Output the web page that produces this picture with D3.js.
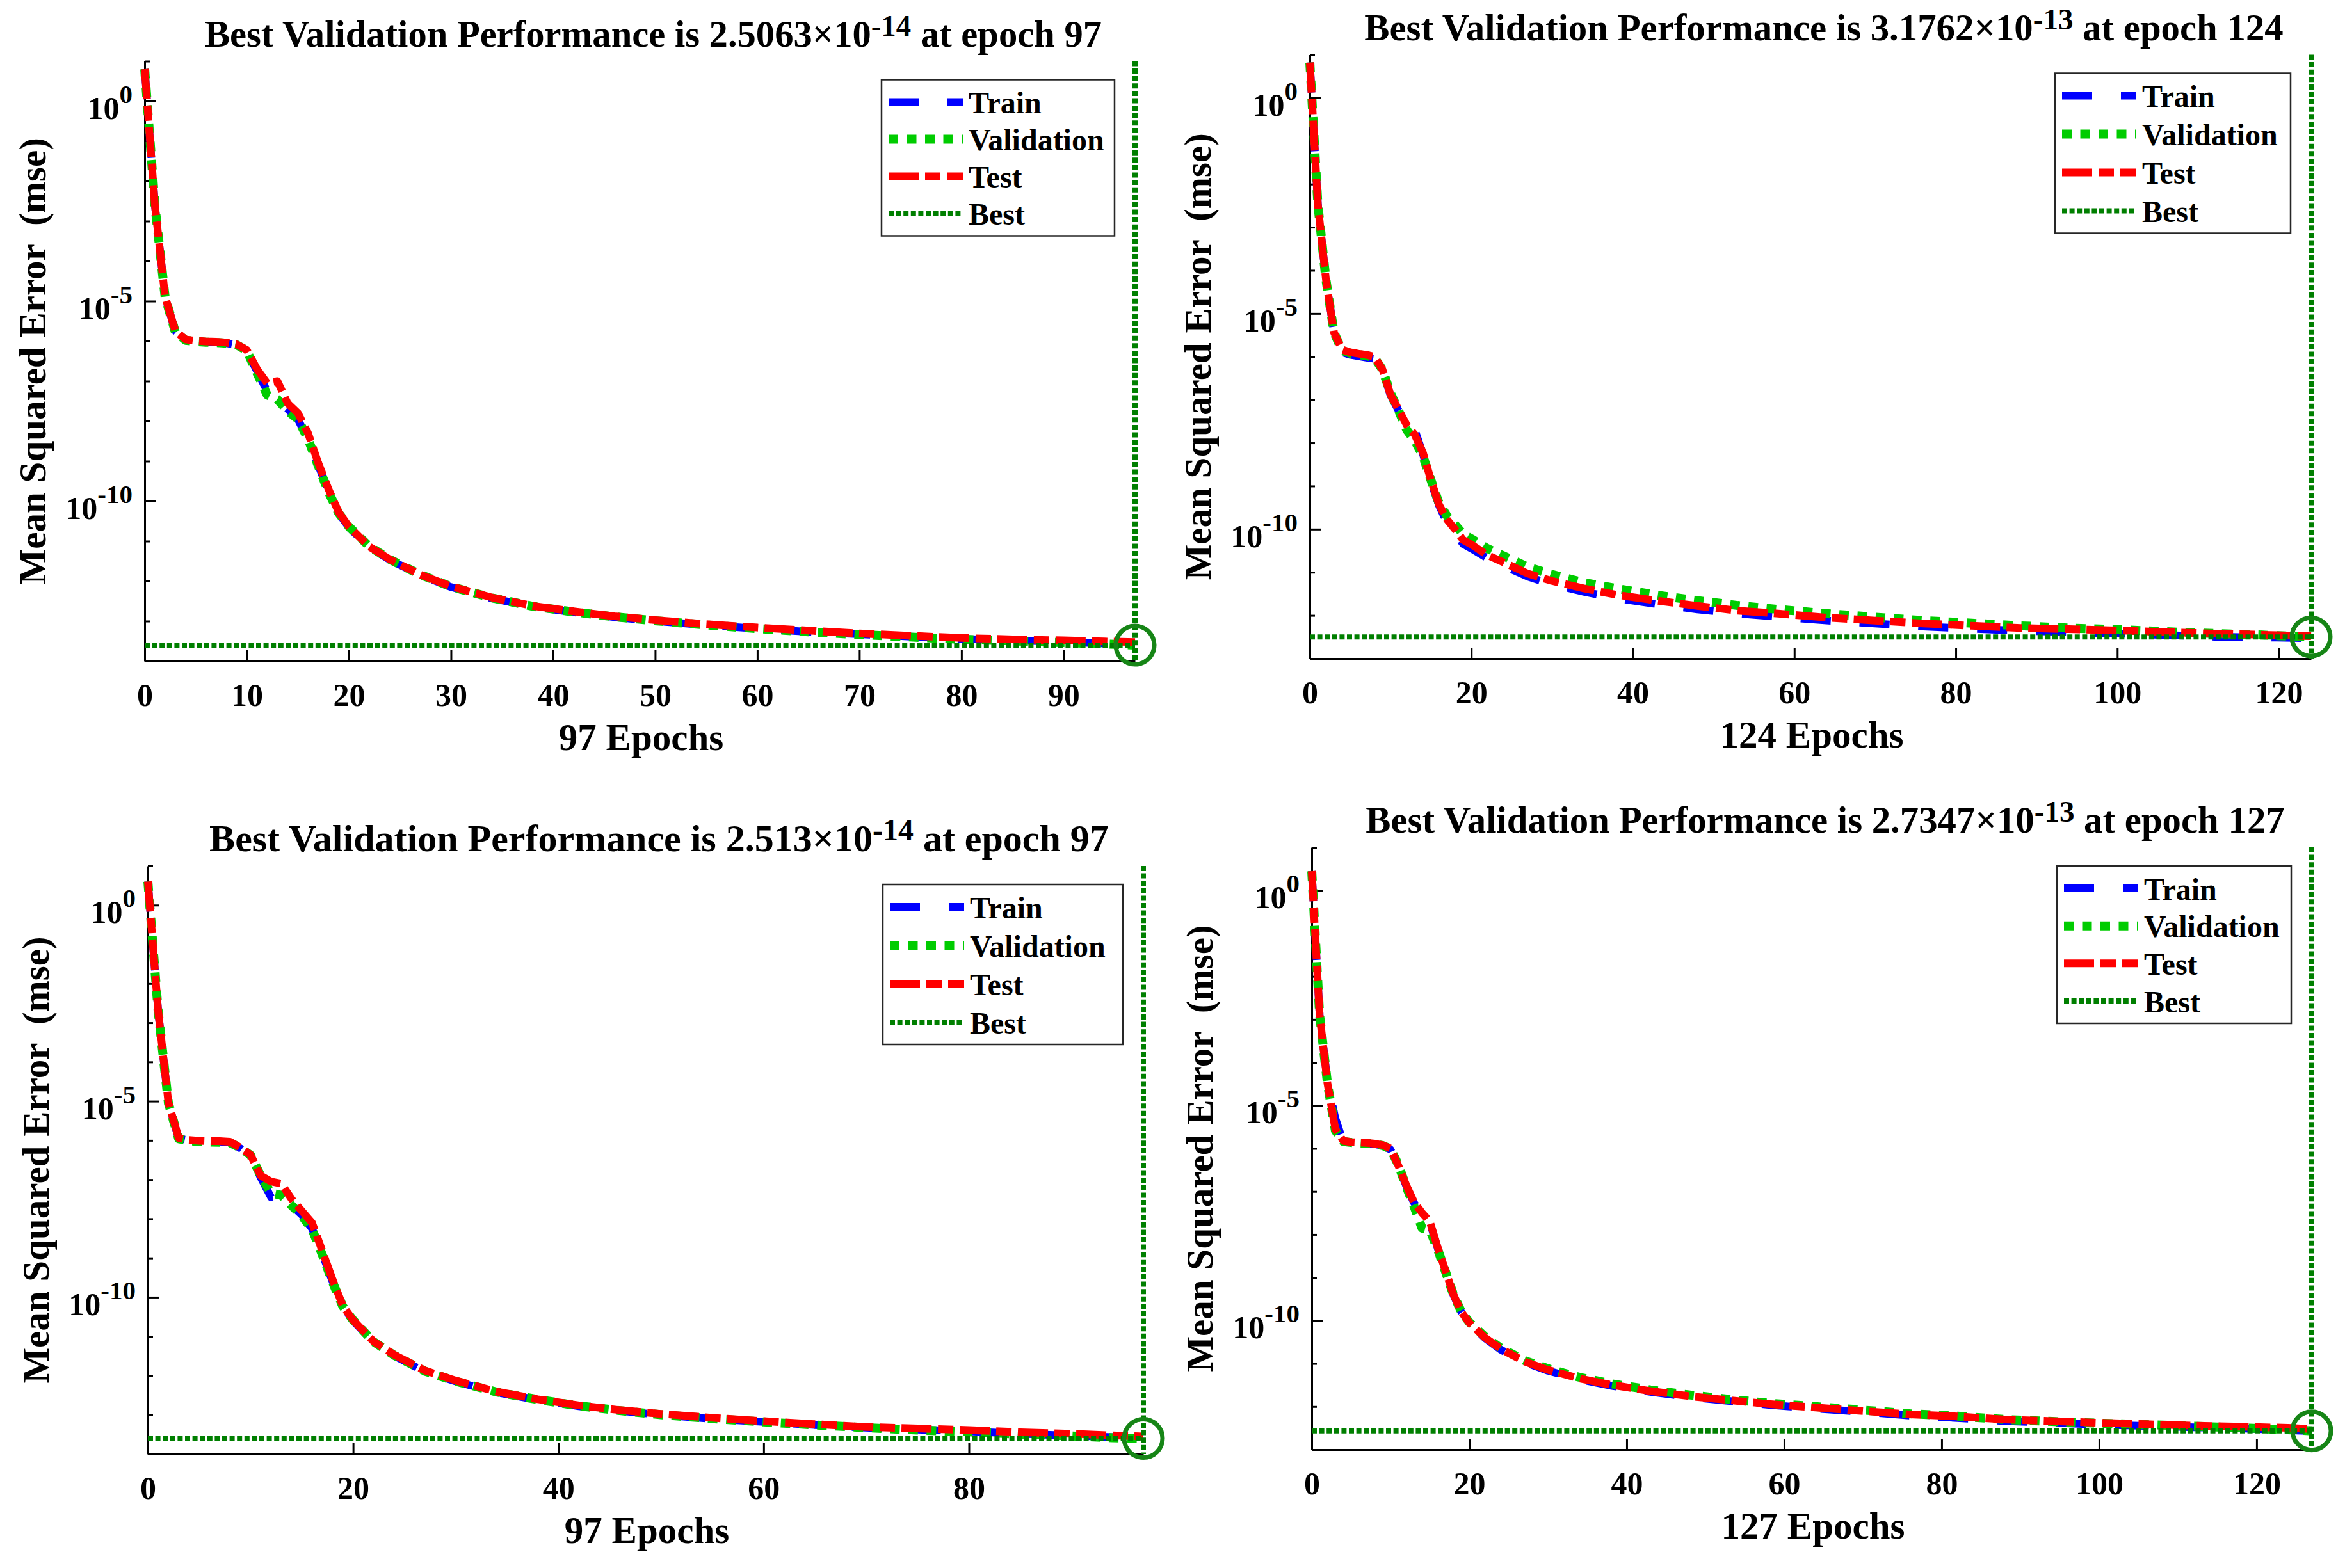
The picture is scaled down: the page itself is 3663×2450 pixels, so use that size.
<!DOCTYPE html>
<html>
<head>
<meta charset="utf-8">
<script src="https://cdn.jsdelivr.net/npm/d3@7"></script>
<style>
  body { margin: 0; background: #fff; }
  text { font-family: "Liberation Serif", "Times New Roman", serif; font-weight: bold; fill: #000; }
</style>
</head>
<body>
<div id="chart"></div>
<script>
// ---- data (mse per epoch) ----

// top left: 97 epochs
const epochsTL = [0,1,2,3,4,5,6,7,8,9,10,11,12,13,14,15,16,17,18,19,20,22,24,27,30,34,38,42,46,50,55,60,65,70,75,80,85,90,94,97];
const trainTL = [6.3, 2.5e-3, 1.26e-5, 1.78e-6, 1.07e-6, 1.0e-6, 9.5e-7, 9.3e-7, 8.9e-7, 7.9e-7, 5.6e-7, 1.78e-7, 5.6e-8, 3.2e-8, 2.0e-8, 1.12e-8, 3.5e-9, 7.9e-10, 1.78e-10, 5.0e-11, 2.2e-11, 7.1e-12, 3.4e-12, 1.41e-12, 7.1e-13, 3.7e-13, 2.3e-13, 1.66e-13, 1.26e-13, 1.0e-13, 7.9e-14, 6.5e-14, 5.4e-14, 4.7e-14, 4.1e-14, 3.6e-14, 3.3e-14, 3.0e-14, 2.75e-14, 2.5e-14];
const valTL = [6.3, 2.5e-3, 1.26e-5, 1.7e-6, 1.05e-6, 9.8e-7, 9.4e-7, 9.2e-7, 8.9e-7, 8.1e-7, 5.8e-7, 1.6e-7, 4.5e-8, 3.5e-8, 1.8e-8, 1.12e-8, 3.6e-9, 7.6e-10, 1.7e-10, 5.0e-11, 2.3e-11, 7.4e-12, 3.5e-12, 1.45e-12, 7.3e-13, 3.8e-13, 2.35e-13, 1.7e-13, 1.28e-13, 1.02e-13, 8.0e-14, 6.5e-14, 5.4e-14, 4.6e-14, 4.0e-14, 3.5e-14, 3.2e-14, 2.9e-14, 2.7e-14, 2.5063e-14];
const testTL = [6.3, 2.5e-3, 1.3e-5, 1.8e-6, 1.1e-6, 1.02e-6, 9.8e-7, 9.6e-7, 9.2e-7, 8.3e-7, 6.0e-7, 2.0e-7, 8.9e-8, 1.0e-7, 2.8e-8, 1.6e-8, 5.0e-9, 9.0e-10, 2.0e-10, 5.3e-11, 2.3e-11, 7.3e-12, 3.5e-12, 1.45e-12, 7.4e-13, 3.9e-13, 2.4e-13, 1.75e-13, 1.32e-13, 1.06e-13, 8.4e-14, 6.9e-14, 5.8e-14, 4.9e-14, 4.3e-14, 3.8e-14, 3.5e-14, 3.3e-14, 3.1e-14, 3.0e-14];

// top right: 124 epochs
const epochsTR = [0,1,2,3,4,5,6,7,8,9,10,11,12,13,14,15,16,17,18,19,20,22,24,27,30,34,38,43,48,53,58,64,70,76,82,88,94,100,106,112,118,124];
const trainTR = [6.6, 3.3e-3, 6.0e-5, 3.6e-6, 1.26e-6, 1.10e-6, 1.02e-6, 9.5e-7, 8.9e-7, 4.8e-7, 1.26e-7, 5.6e-8, 2.8e-8, 2.0e-8, 5.6e-9, 1.26e-9, 3.55e-10, 1.41e-10, 7.9e-11, 4.5e-11, 3.55e-11, 2.1e-11, 1.41e-11, 7.9e-12, 5.25e-12, 3.5e-12, 2.5e-12, 1.82e-12, 1.38e-12, 1.10e-12, 9.3e-13, 7.6e-13, 6.5e-13, 5.5e-13, 4.9e-13, 4.4e-13, 4.1e-13, 3.8e-13, 3.5e-13, 3.2e-13, 3.1e-13, 2.95e-13];
const valTR = [6.6, 3.3e-3, 6.0e-5, 3.6e-6, 1.38e-6, 1.20e-6, 1.12e-6, 1.05e-6, 9.5e-7, 5.0e-7, 1.41e-7, 5.6e-8, 2.0e-8, 1.12e-8, 5.0e-9, 1.38e-9, 4.0e-10, 2.0e-10, 1.26e-10, 7.6e-11, 6.0e-11, 3.55e-11, 2.4e-11, 1.32e-11, 8.9e-12, 5.75e-12, 4.2e-12, 2.95e-12, 2.2e-12, 1.7e-12, 1.38e-12, 1.10e-12, 9.1e-13, 7.6e-13, 6.6e-13, 5.75e-13, 5.1e-13, 4.7e-13, 4.2e-13, 3.8e-13, 3.5e-13, 3.1762e-13];
const testTR = [6.6, 3.3e-3, 6.0e-5, 3.6e-6, 1.45e-6, 1.26e-6, 1.17e-6, 1.10e-6, 1.0e-6, 5.0e-7, 1.29e-7, 5.9e-8, 2.6e-8, 1.55e-8, 6.0e-9, 1.38e-9, 3.7e-10, 1.66e-10, 9.8e-11, 5.6e-11, 4.4e-11, 2.5e-11, 1.7e-11, 9.3e-12, 6.3e-12, 4.2e-12, 3.0e-12, 2.2e-12, 1.66e-12, 1.29e-12, 1.10e-12, 8.9e-13, 7.6e-13, 6.5e-13, 5.75e-13, 5.1e-13, 4.8e-13, 4.5e-13, 4.1e-13, 3.8e-13, 3.55e-13, 3.3e-13];

// bottom left: 97 epochs
const epochsBL = [0,1,2,3,4,5,6,7,8,9,10,11,12,13,14,15,16,17,18,19,20,22,24,27,30,34,38,42,46,50,55,60,65,70,75,80,85,90,94,97];
const trainBL = [4.0, 2.0e-3, 8.9e-6, 1.12e-6, 1.0e-6, 9.5e-7, 9.3e-7, 9.3e-7, 8.9e-7, 6.3e-7, 4.0e-7, 1.12e-7, 3.55e-8, 4.0e-8, 2.2e-8, 1.26e-8, 5.6e-9, 1.26e-9, 2.5e-10, 5.6e-11, 2.5e-11, 7.1e-12, 3.2e-12, 1.26e-12, 7.1e-13, 3.7e-13, 2.4e-13, 1.66e-13, 1.26e-13, 1.0e-13, 7.9e-14, 6.6e-14, 5.5e-14, 4.7e-14, 4.2e-14, 3.8e-14, 3.3e-14, 2.95e-14, 2.7e-14, 2.4e-14];
const valBL = [4.0, 2.0e-3, 8.9e-6, 1.1e-6, 9.8e-7, 9.3e-7, 9.1e-7, 9.0e-7, 8.7e-7, 6.5e-7, 4.2e-7, 1.26e-7, 4.5e-8, 4.0e-8, 2.2e-8, 1.2e-8, 5.4e-9, 1.2e-9, 2.4e-10, 5.8e-11, 2.6e-11, 7.3e-12, 3.3e-12, 1.3e-12, 7.2e-13, 3.8e-13, 2.45e-13, 1.7e-13, 1.28e-13, 1.01e-13, 8.0e-14, 6.6e-14, 5.5e-14, 4.7e-14, 4.1e-14, 3.7e-14, 3.2e-14, 2.9e-14, 2.6e-14, 2.513e-14];
const testBL = [4.0, 2.0e-3, 9.2e-6, 1.15e-6, 1.02e-6, 9.8e-7, 9.6e-7, 9.6e-7, 9.2e-7, 6.6e-7, 4.3e-7, 1.26e-7, 8.9e-8, 7.9e-8, 3.2e-8, 1.58e-8, 7.9e-9, 1.5e-9, 2.8e-10, 6.0e-11, 2.6e-11, 7.4e-12, 3.4e-12, 1.35e-12, 7.5e-13, 3.9e-13, 2.5e-13, 1.75e-13, 1.32e-13, 1.06e-13, 8.4e-14, 6.9e-14, 5.8e-14, 4.9e-14, 4.5e-14, 4.1e-14, 3.6e-14, 3.3e-14, 3.0e-14, 2.8e-14];

// bottom right: 127 epochs
const epochsBR = [0,1,2,3,4,5,6,7,8,9,10,11,12,13,14,15,16,17,18,19,20,22,24,27,30,34,38,43,48,53,58,64,70,76,82,88,94,100,106,112,118,124,127];
const trainBR = [2.8, 1.26e-3, 3.5e-5, 5.0e-6, 1.41e-6, 1.38e-6, 1.35e-6, 1.32e-6, 1.26e-6, 1.15e-6, 9.5e-7, 3.8e-7, 1.35e-7, 5.4e-8, 3.0e-8, 1.9e-8, 4.8e-9, 1.35e-9, 3.9e-10, 1.55e-10, 8.7e-11, 3.9e-11, 2.1e-11, 1.08e-11, 6.8e-12, 4.3e-12, 3.05e-12, 2.2e-12, 1.66e-12, 1.35e-12, 1.1e-12, 9.0e-13, 7.5e-13, 6.2e-13, 5.4e-13, 4.6e-13, 4.2e-13, 3.8e-13, 3.55e-13, 3.3e-13, 3.1e-13, 2.8e-13, 2.7e-13];
const valBR = [2.8, 1.26e-3, 3.2e-5, 2.6e-6, 1.45e-6, 1.38e-6, 1.35e-6, 1.32e-6, 1.26e-6, 1.17e-6, 9.8e-7, 4.2e-7, 1.3e-7, 4.5e-8, 1.41e-8, 1.26e-8, 4.5e-9, 1.35e-9, 4.0e-10, 1.6e-10, 9.2e-11, 4.2e-11, 2.3e-11, 1.18e-11, 7.6e-12, 4.8e-12, 3.4e-12, 2.45e-12, 1.86e-12, 1.48e-12, 1.2e-12, 1.0e-12, 8.3e-13, 6.8e-13, 6.0e-13, 5.0e-13, 4.5e-13, 4.1e-13, 3.8e-13, 3.5e-13, 3.2e-13, 2.9e-13, 2.7347e-13];
const testBR = [2.8, 1.26e-3, 3.2e-5, 2.8e-6, 1.51e-6, 1.41e-6, 1.38e-6, 1.35e-6, 1.29e-6, 1.20e-6, 1.0e-6, 4.0e-7, 1.41e-7, 5.6e-8, 3.2e-8, 2.0e-8, 5.0e-9, 1.41e-9, 4.0e-10, 1.58e-10, 8.9e-11, 4.0e-11, 2.2e-11, 1.12e-11, 7.1e-12, 4.5e-12, 3.2e-12, 2.3e-12, 1.74e-12, 1.41e-12, 1.15e-12, 9.5e-13, 7.9e-13, 6.6e-13, 5.9e-13, 5.0e-13, 4.6e-13, 4.2e-13, 3.9e-13, 3.6e-13, 3.4e-13, 3.2e-13, 3.0e-13];

// best validation results, as printed in the titles
const bestEpochs = [97, 124, 97, 127];
const bestValues = [2.5063e-14, 3.1762e-13, 2.513e-14, 2.7347e-13];
const bestMantissa = ["2.5063", "3.1762", "2.513", "2.7347"];
const bestExponent = ["-14", "-13", "-14", "-13"];

const legendNames = ["Train", "Validation", "Test", "Best"];

// ---- layout (pixel geometry of each axes box) ----
const layout = [
  { x0: 226,  x1: 1773, yTop: 95.5, yBot: 1033, step: 10, titleSize: 58.6, legW: 364, legH: 244 },
  { x0: 2046, x1: 3610, yTop: 85.5, yBot: 1029, step: 20, titleSize: 58.8, legW: 368, legH: 250 },
  { x0: 231,  x1: 1786, yTop: 1353, yBot: 2272, step: 20, titleSize: 60,   legW: 375, legH: 250 },
  { x0: 2049, x1: 3611, yTop: 1324, yBot: 2265, step: 20, titleSize: 58.8, legW: 366, legH: 246 }
];

const panels = [
  { epochs: epochsTL, train: trainTL, val: valTL, test: testTL },
  { epochs: epochsTR, train: trainTR, val: valTR, test: testTR },
  { epochs: epochsBL, train: trainBL, val: valBL, test: testBL },
  { epochs: epochsBR, train: trainBR, val: valBR, test: testBR }
];

// line styles: train, validation, test, best
const styles = [
  { key: "train", color: "#0000ff", width: 12, dash: "47,45" },
  { key: "val",   color: "#00cc00", width: 14, dash: "15,13.5" },
  { key: "test",  color: "#ff0000", width: 12, dash: "47,10,24,10" },
  { key: "best",  color: "#007f00", width: 8,  dash: "8,3.6" }
];

const svg = d3.select("#chart").append("svg")
  .attr("width", 3663)
  .attr("height", 2450)
  .style("background", "#fff");

function drawPanel(p, i) {
  const L = layout[i];
  const bestEpoch = bestEpochs[i];
  const bestValue = bestValues[i];
  const lo = Math.floor(Math.log10(bestValue));
  const g = svg.append("g");

  const x = d3.scaleLinear().domain([0, bestEpoch]).range([L.x0, L.x1]);
  const y = d3.scaleLog().domain([Math.pow(10, lo), 10]).range([L.yBot, L.yTop]);

  // X axis
  const xAxis = d3.axisBottom(x)
    .tickValues(d3.range(0, bestEpoch + 1, L.step))
    .tickSizeInner(-17)
    .tickSizeOuter(0);
  const gx = g.append("g")
    .attr("transform", `translate(0, ${L.yBot})`)
    .call(xAxis);
  gx.select(".domain").attr("stroke-width", 3);
  gx.selectAll(".tick line").attr("stroke-width", 3);
  gx.selectAll(".tick text")
    .attr("y", 70).attr("dy", null)
    .style("font-size", "50px");

  // Y axis (log, one tick per decade, long ticks on labelled ones)
  const decades = d3.range(lo, 2).map(k => Math.pow(10, k));
  const isMajor = d => Math.round(Math.log10(d)) % 5 === 0;
  const yAxis = d3.axisLeft(y)
    .tickValues(decades)
    .tickSizeInner(-8)
    .tickSizeOuter(0)
    .tickFormat("");
  const gy = g.append("g")
    .attr("transform", `translate(${L.x0}, 0)`)
    .call(yAxis);
  gy.select(".domain").attr("stroke-width", 3);
  gy.selectAll(".tick line").attr("stroke-width", 3)
    .filter(isMajor).attr("x2", 17);

  decades.filter(isMajor).forEach(d => {
    const t = g.append("text")
      .attr("x", L.x0 - 19)
      .attr("y", y(d) + 28)
      .attr("text-anchor", "end")
      .style("font-size", "50px");
    t.append("tspan").text("10");
    t.append("tspan").attr("dy", -25).style("font-size", "41px")
      .text(Math.round(Math.log10(d)));
  });

  // curves
  const line = d3.line()
    .x((d, j) => x(p.epochs[j]))
    .y(d => y(d));
  styles.slice(0, 3).forEach(s => {
    g.append("path")
      .datum(p[s.key])
      .attr("d", line)
      .attr("fill", "none")
      .attr("stroke", s.color)
      .attr("stroke-width", s.width)
      .attr("stroke-dasharray", s.dash)
      .attr("stroke-linejoin", "round");
  });

  // best markers
  const best = styles[3];
  g.append("line")
    .attr("x1", L.x0).attr("x2", x(bestEpoch))
    .attr("y1", y(bestValue)).attr("y2", y(bestValue))
    .attr("stroke", best.color).attr("stroke-width", best.width)
    .attr("stroke-dasharray", best.dash);
  g.append("line")
    .attr("x1", x(bestEpoch)).attr("x2", x(bestEpoch))
    .attr("y1", L.yTop).attr("y2", L.yBot)
    .attr("stroke", best.color).attr("stroke-width", best.width)
    .attr("stroke-dasharray", best.dash);
  g.append("circle")
    .attr("cx", x(bestEpoch)).attr("cy", y(bestValue))
    .attr("r", 30)
    .attr("fill", "none")
    .attr("stroke", "#168516")
    .attr("stroke-width", 7);

  // title
  const cx = (L.x0 + L.x1) / 2;
  const title = g.append("text")
    .attr("x", cx + 21)
    .attr("y", L.yTop - 23)
    .attr("text-anchor", "middle")
    .style("font-size", L.titleSize + "px");
  title.append("tspan").text(`Best Validation Performance is ${bestMantissa[i]}\u00d710`);
  title.append("tspan").attr("dy", -17).style("font-size", (L.titleSize * 0.8) + "px").text(bestExponent[i]);
  title.append("tspan").attr("dy", 17).text(` at epoch ${bestEpoch}`);

  // axis labels
  g.append("text")
    .attr("x", cx + 2)
    .attr("y", L.yBot + 139)
    .attr("text-anchor", "middle")
    .style("font-size", "59px")
    .text(`${bestEpoch} Epochs`);
  g.append("text")
    .attr("transform", `translate(${L.x0 - 155}, ${(L.yTop + L.yBot) / 2}) rotate(-90)`)
    .attr("text-anchor", "middle")
    .style("font-size", "59px")
    .style("white-space", "pre")
    .text("Mean Squared Error  (mse)");

  // legend
  const lw = L.legW, lh = L.legH;
  const lx = L.x1 - 32 - lw, ly = L.yTop + 29;
  const lg = g.append("g").attr("transform", `translate(${lx}, ${ly})`);
  lg.append("rect")
    .attr("width", lw).attr("height", lh)
    .attr("fill", "#fff")
    .attr("stroke", "#262626")
    .attr("stroke-width", 2.5);
  const rowGap = (lh - 70) / 3;
  legendNames.forEach((name, k) => {
    const s = styles[k];
    const ry = 35 + k * rowGap;
    lg.append("line")
      .attr("x1", 11).attr("x2", 127)
      .attr("y1", ry).attr("y2", ry)
      .attr("stroke", s.color)
      .attr("stroke-width", s.width)
      .attr("stroke-dasharray", s.dash);
    lg.append("text")
      .attr("x", 136)
      .attr("y", ry + 17.5)
      .style("font-size", "48px")
      .text(name);
  });
}

panels.forEach(drawPanel);
</script>
</body>
</html>
